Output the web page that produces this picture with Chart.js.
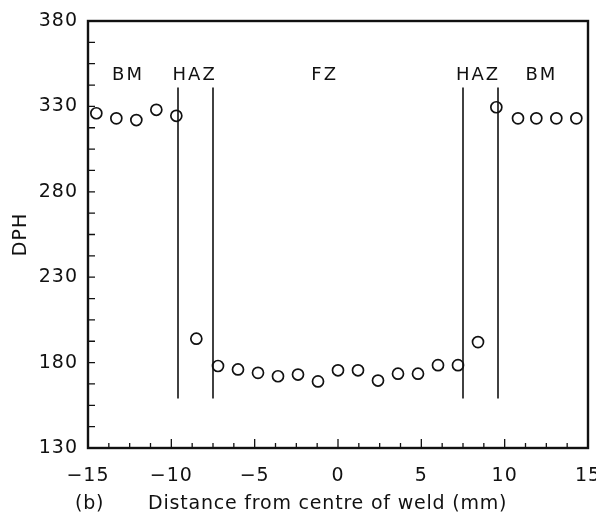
<!DOCTYPE html>
<html>
<head>
<meta charset="utf-8">
<script src="https://cdn.jsdelivr.net/npm/chart.js@4.4.1/dist/chart.umd.min.js"></script>
<style>
  html, body { margin: 0; padding: 0; background: #fff; }
  #wrap { width: 596px; height: 515px; }
</style>
</head>
<body>
<div id="wrap"><canvas id="chart"></canvas></div>
<script>
// hardness traverse across the weld
const distance = [-14.5, -13.3, -12.1, -10.9, -9.7, -8.5,
  -7.2, -6.0, -4.8, -3.6, -2.4, -1.2, 0, 1.2, 2.4, 3.6, 4.8, 6.0, 7.2,
  8.4, 9.5, 10.8, 11.9, 13.1, 14.3];
const hardness = [326, 323, 322, 328, 324.5, 194,
  178, 176, 174, 172, 173, 169, 175.5, 175.5, 169.5, 173.5, 173.5, 178.5, 178.5,
  192, 329.5, 323, 323, 323, 323];

// zone boundaries (vertical lines)
const boundaryX = [-9.6, -7.5, 7.5, 9.6];
const boundaryY = [159, 341];

// zone names
const zoneNames = ['BM', 'HAZ', 'FZ', 'HAZ', 'BM'];
const zoneNameX = [-12.6, -8.6, -0.8, 8.4, 12.2];
const zoneNameY = 348;

const xTitle = 'Distance from centre of weld (mm)';
const yTitle = 'DPH';
const panelLabel = '(b)';

const FONT = 'DejaVu Sans';
Chart.defaults.font.family = FONT;
Chart.defaults.color = '#111';

const points = distance.map((d, i) => ({ x: d, y: hardness[i] }));

const datasets = [{
  label: 'DPH',
  data: points,
  showLine: false,
  pointStyle: 'circle',
  pointRadius: 5.5,
  pointBorderWidth: 1.7,
  pointBorderColor: '#111',
  pointBackgroundColor: 'rgba(0,0,0,0)'
}];
boundaryX.forEach(bx => {
  datasets.push({
    type: 'line',
    data: boundaryY.map(by => ({ x: bx, y: by })),
    borderColor: '#111',
    borderWidth: 1.6,
    pointRadius: 0,
    fill: false
  });
});

// frame, inward ticks and annotations
const framePlugin = {
  id: 'frame',
  beforeDraw(chart) {
    chart.ctx.letterSpacing = '1px';
  },
  afterDraw(chart) {
    const ctx = chart.ctx;
    const a = chart.chartArea;
    const xs = chart.scales.x, ys = chart.scales.y;
    ctx.save();
    ctx.strokeStyle = '#111';
    ctx.lineWidth = 2.4;
    ctx.strokeRect(a.left, a.top, a.right - a.left, a.bottom - a.top);

    ctx.lineWidth = 1.3;
    ctx.beginPath();
    for (let v = -15; v <= 15.001; v += 1.25) {
      const px = xs.getPixelForValue(v);
      const len = Math.abs(v % 5) < 0.01 ? 9 : 5;
      ctx.moveTo(px, a.bottom);
      ctx.lineTo(px, a.bottom - len);
    }
    for (let v = 130; v <= 380.001; v += 12.5) {
      const py = ys.getPixelForValue(v);
      ctx.moveTo(a.left, py);
      ctx.lineTo(a.left + 7, py);
    }
    ctx.stroke();

    ctx.fillStyle = '#111';
    ctx.font = '18px "' + FONT + '"';
    ctx.textBaseline = 'middle';
    ctx.textAlign = 'center';
    ctx.letterSpacing = '2px';
    zoneNames.forEach((name, i) => {
      ctx.fillText(name, xs.getPixelForValue(zoneNameX[i]), ys.getPixelForValue(zoneNameY));
    });
    ctx.font = '19px "' + FONT + '"';
    ctx.letterSpacing = '0.8px';
    ctx.textAlign = 'left';
    ctx.fillText(panelLabel, 75, 504);
    ctx.fillText(xTitle, 148, 504);
    ctx.restore();
  }
};

new Chart(document.getElementById('chart'), {
  type: 'scatter',
  data: { datasets },
  options: {
    responsive: true,
    maintainAspectRatio: false,
    animation: false,
    layout: { padding: { top: 21, right: 8, left: 0, bottom: 0 } },
    plugins: {
      legend: { display: false },
      tooltip: { enabled: false }
    },
    scales: {
      x: {
        type: 'linear',
        min: -15,
        max: 15,
        afterFit(scale) {
          scale.height = 67;
          scale.paddingLeft = 0;
          scale.paddingRight = 0;
        },
        grid: { display: false, drawTicks: false },
        border: { display: false },
        ticks: {
          stepSize: 5,
          padding: 17,
          font: { size: 19 },
          callback: v => String(v).replace('-', '\u2212')
        }
      },
      y: {
        min: 130,
        max: 380,
        afterFit(scale) {
          scale.width = 88;
          scale.paddingTop = 0;
          scale.paddingBottom = 0;
        },
        grid: { display: false, drawTicks: false },
        border: { display: false },
        title: {
          display: true,
          text: yTitle,
          font: { size: 19 },
          padding: { top: 10, bottom: 0 }
        },
        ticks: {
          stepSize: 50,
          padding: 10,
          font: { size: 19 }
        }
      }
    }
  },
  plugins: [framePlugin]
});
</script>
</body>
</html>
